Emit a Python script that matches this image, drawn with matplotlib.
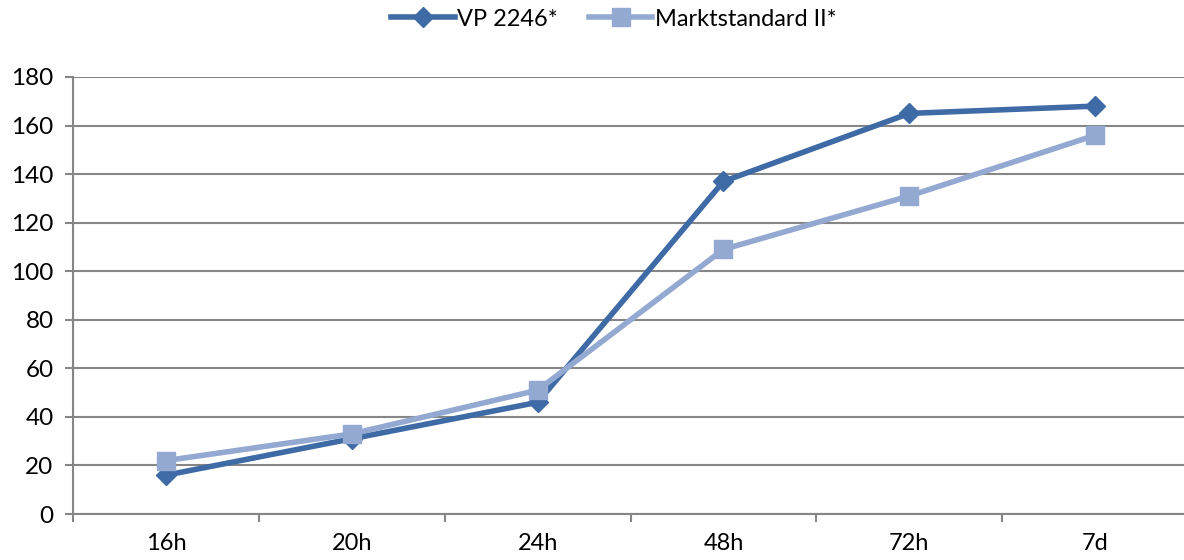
import matplotlib.pyplot as plt
import numpy as np

categories = ["16h", "20h", "24h", "48h", "72h", "7d"]
vp2246 = [16, 31, 46, 137, 165, 168]
marktstandard = [22, 33, 51, 109, 131, 156]

plt.rcParams['font.family'] = ['Lato', 'DejaVu Sans']

fig = plt.figure(figsize=(11.84, 5.6), dpi=100)
ax = fig.add_axes([0.0617, 0.0821, 0.9417, 0.7804])

x = np.arange(len(categories))
ax.plot(x, vp2246, color="#3E6AA5", linewidth=4, marker="D", markersize=10,
        label="VP 2246*", zorder=3)
ax.plot(x, marktstandard, color="#93A9D2", linewidth=4, marker="s", markersize=13,
        label="Marktstandard II*", zorder=3)

ax.set_xlim(-0.5, len(categories) - 0.5)
ax.set_ylim(0, 180)
ax.set_yticks(np.arange(0, 181, 20))
ax.set_xticks(x)
ax.set_xticklabels(categories)
ax.set_xticks(np.arange(-0.5, len(categories)), minor=True)
ax.tick_params(axis="x", which="major", length=0, pad=14, labelsize=17)
ax.tick_params(axis="x", which="minor", length=6, width=1.5, color="#868686")
ax.tick_params(axis="y", length=6, width=1.5, color="#868686", labelsize=17.5, pad=8)

ax.grid(axis="y", color="#868686", linewidth=1.5, zorder=0)
for s in ["top", "right"]:
    ax.spines[s].set_visible(False)
for s in ["left", "bottom"]:
    ax.spines[s].set_color("#868686")
    ax.spines[s].set_linewidth(1.5)

ax.legend(loc="lower center", bbox_to_anchor=(0.485, 1.06), ncol=2, frameon=False,
          fontsize=17, handlelength=2.7, columnspacing=1.3, handletextpad=0.1)

fig.savefig("out.png", dpi=100)
